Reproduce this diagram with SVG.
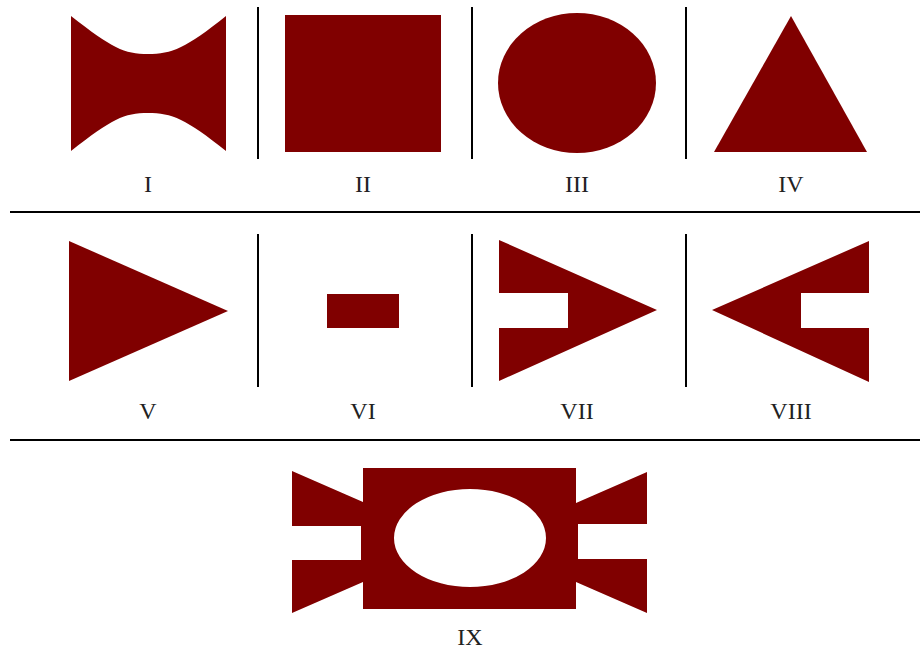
<svg xmlns="http://www.w3.org/2000/svg" width="920" height="652" viewBox="0 0 920 652">
<style>
.s{fill:#800000;stroke:none}
.l{stroke:#000;stroke-width:2;fill:none}
.t{font-family:"Liberation Serif","DejaVu Serif",serif;font-size:24px;fill:#222;text-anchor:middle}
</style>
<rect width="920" height="652" fill="#fff"/>
<g id="dividers">
<line class="l" x1="258" y1="7" x2="258" y2="159"/>
<line class="l" x1="472" y1="7" x2="472" y2="159"/>
<line class="l" x1="686" y1="7" x2="686" y2="159"/>
<line class="l" x1="10" y1="212" x2="920" y2="212"/>
<line class="l" x1="258" y1="234" x2="258" y2="387"/>
<line class="l" x1="472" y1="234" x2="472" y2="387"/>
<line class="l" x1="686" y1="234" x2="686" y2="387"/>
<line class="l" x1="10" y1="440" x2="920" y2="440"/>
</g>
<g id="shape-I">
<path class="s" d="M71,16 C112,48 124,54 148,54 C172,54 186,48 226,16 L226,151 C186,119 172,113 148,113 C124,113 112,119 71,151 Z"/>
<text class="t" x="148" y="192">I</text>
</g>
<g id="shape-II">
<rect class="s" x="285" y="15" width="156" height="137"/>
<text class="t" x="363" y="192">II</text>
</g>
<g id="shape-III">
<ellipse class="s" cx="577" cy="83" rx="79" ry="70"/>
<text class="t" x="577" y="192">III</text>
</g>
<g id="shape-IV">
<polygon class="s" points="791,16 867,152 714,152"/>
<text class="t" x="791" y="192">IV</text>
</g>
<g id="shape-V">
<polygon class="s" points="69,241 228,311 69,381"/>
<text class="t" x="148" y="419">V</text>
</g>
<g id="shape-VI">
<rect class="s" x="327" y="294" width="72" height="34"/>
<text class="t" x="363" y="419">VI</text>
</g>
<g id="shape-VII">
<polygon class="s" points="499,240 657,310 499,381 499,328 568,328 568,293 499,293"/>
<text class="t" x="577" y="419">VII</text>
</g>
<g id="shape-VIII">
<polygon class="s" points="869,241 712,310 869,382 869,328 801,328 801,293 869,293"/>
<text class="t" x="791" y="419">VIII</text>
</g>
<g id="shape-IX">
<path class="s" fill-rule="evenodd" d="M363,468 L576,468 L576,503 L647,472 L647,524 L578,524 L578,559 L647,559 L647,613 L576,582 L576,609 L363,609 L363,582 L292,613 L292,560 L361,560 L361,526 L292,526 L292,471 L363,502 Z M394,538 A76,49 0 1,0 546,538 A76,49 0 1,0 394,538 Z"/>
<text class="t" x="470" y="645">IX</text>
</g>
</svg>
